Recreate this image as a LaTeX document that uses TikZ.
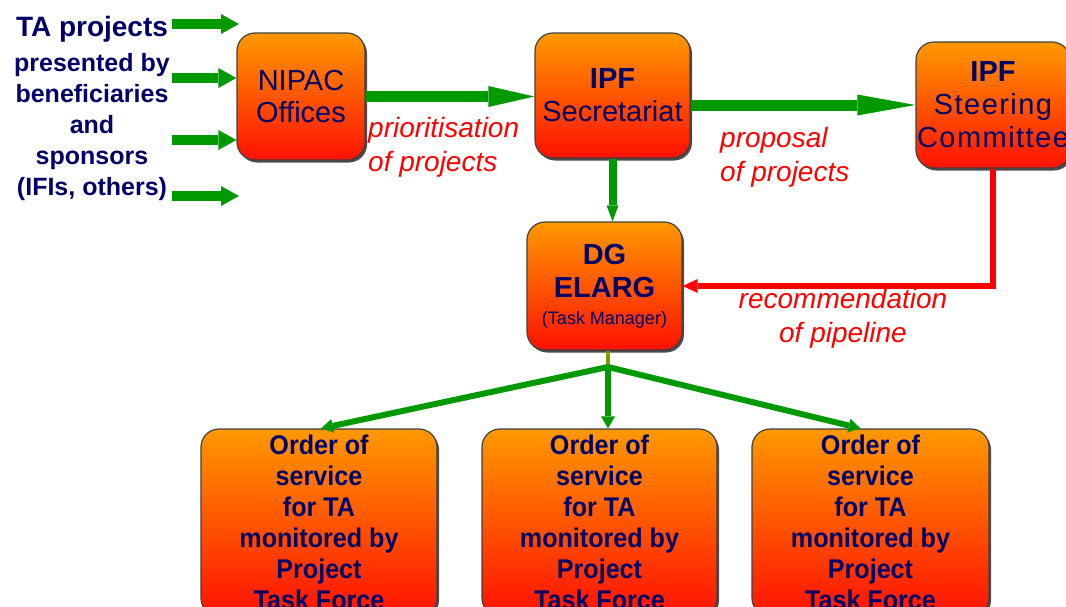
\documentclass[tikz,border=0pt]{standalone}
\usepackage{fontspec}
\setmainfont{Liberation Sans}
\newfontfamily\narrowfont[FakeStretch=0.93]{Liberation Sans}
\newfontfamily\widefont[LetterSpace=5]{Liberation Sans}
\usetikzlibrary{arrows.meta,shadows,calc}
\definecolor{navy}{RGB}{0,0,102}
\definecolor{grn}{RGB}{0,153,0}
\definecolor{topor}{RGB}{255,153,0}
\definecolor{botred}{RGB}{255,17,0}
\definecolor{stemcol}{RGB}{128,153,0}
\definecolor{lblred}{RGB}{255,0,0}
\tikzset{
  box/.style={rounded corners=18pt, draw=black!75, line width=1.2pt,
    top color=topor, bottom color=botred,
    drop shadow={shadow xshift=2pt,shadow yshift=-2.5pt,fill=black!70,opacity=1},
    text=navy, align=center, inner sep=0pt},
  orderbox/.style={box, minimum height=187pt, font=\narrowfont\bfseries\fontsize{27}{31}\selectfont},
  inarrow/.style={draw=grn, line width=10pt, -{Triangle[length=18pt,width=20pt,line width=0pt]}},
  bigarrow/.style={draw=grn, line width=11pt, -{Triangle[length=#1,width=21pt,line width=0pt]}},
  downarrow/.style={draw=grn, line width=8pt, -{Triangle[length=16pt,width=12pt,line width=0pt]}},
  brarrow/.style={draw=grn, line width=6pt, -{Triangle[length=12pt,width=14pt,line width=0pt]}},
  redarrow/.style={draw=lblred, line width=6pt, line join=miter, -{Triangle[length=15pt,width=14pt,line width=0pt]}},
  lbl/.style={text=lblred, font=\itshape\fontsize{28}{34}\selectfont, inner sep=0pt}
}
\begin{document}
\begin{tikzpicture}[x=1pt,y=-1pt]
\useasboundingbox (0,0) rectangle (1066,606);

% left text
\node[text=navy, align=center, inner sep=0pt, anchor=north,
      font=\bfseries\fontsize{25}{31}\selectfont] (src) at (92,16.5)
  {{\fontsize{28}{31}\selectfont TA projects}\\[4pt]presented by\\beneficiaries\\and\\sponsors\\(IFIs, others)};

% boxes
\node[box, minimum width=128pt, minimum height=127pt, font=\fontsize{29}{32}\selectfont] (nipac) at (301,96.5) {NIPAC\\Offices};
\node[box, minimum width=155pt, minimum height=125pt, font=\fontsize{29}{33}\selectfont] (sec) at (612.5,95.5) {\textbf{IPF}\\Secretariat};
\node[box, minimum width=154pt, minimum height=126pt, font=\fontsize{29}{33}\selectfont] (steer) at (993,105) {\textbf{IPF}\\{\widefont Steering}\\{\widefont Committee}};
\node[box, minimum width=155pt, minimum height=128pt, font=\bfseries\fontsize{29}{33}\selectfont] (dg) at (604.5,286) {DG\\ELARG\\[-6pt]{\mdseries\fontsize{18}{20}\selectfont (Task Manager)}};
\node[orderbox, minimum width=236pt] (o1) at (319,522.5) {Order of\\service\\for TA\\monitored by\\Project\\Task Force};
\node[orderbox, minimum width=235pt] (o2) at (599.5,522.5) {Order of\\service\\for TA\\monitored by\\Project\\Task Force};
\node[orderbox, minimum width=237pt] (o3) at (870.5,522.5) {Order of\\service\\for TA\\monitored by\\Project\\Task Force};

% input arrows
\coordinate (s1) at (172,24);
\coordinate (s2) at (172,78);
\coordinate (s3) at (172,140);
\coordinate (s4) at (172,196);
\coordinate (e1) at (239,24);
\coordinate (e4) at (239,196);
\draw[inarrow] (s1) -- (e1);
\draw[inarrow] (s2) -- (s2 -| nipac.west);
\draw[inarrow] (s3) -- (s3 -| nipac.west);
\draw[inarrow] (s4) -- (e4);

% main flow
\draw[bigarrow=46pt] (nipac.east) -- (nipac.east -| sec.west);
\draw[bigarrow=58pt] (sec.east |- steer.west) -- (steer.west);
\draw[downarrow] (sec.south) -- (sec.south |- dg.north);
\draw[redarrow] (steer.south) |- (dg.east);

% fork
\coordinate (fork) at (608,367);
\draw[stemcol, line width=4pt] (fork |- dg.south) -- (fork);
\draw[brarrow] (fork) -- ($(o1.north)+(2,0)$);
\draw[brarrow] (fork) -- (fork |- o2.north);
\draw[brarrow] (fork) -- ($(o3.north)+(-10,0)$);

% labels
\node[lbl, align=left, anchor=north west] (lab1) at (368,117) {prioritisation\\of projects};
\node[lbl, align=left, anchor=north west] (lab2) at (720,127) {proposal\\of projects};
\node[lbl, align=center, anchor=north] (lab3) at (843,288) {recommendation\\of pipeline};
\end{tikzpicture}
\end{document}
